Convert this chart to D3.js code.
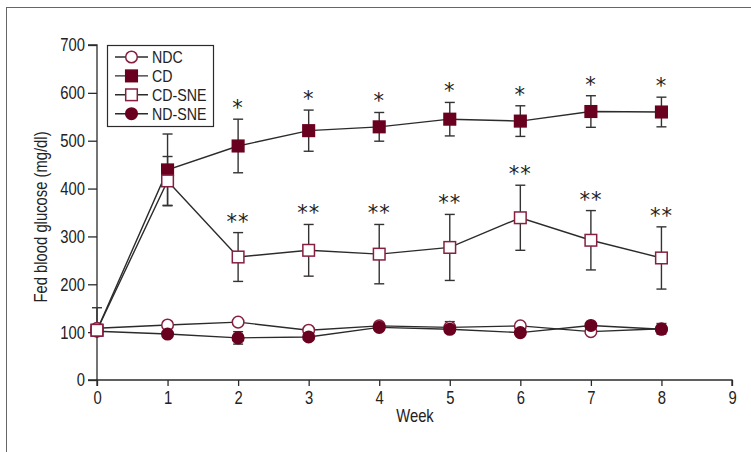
<!DOCTYPE html>
<html><head><meta charset="utf-8">
<script src="https://cdn.jsdelivr.net/npm/d3@7"></script>
<style>
html,body{margin:0;padding:0;background:#fff;}
svg{display:block;}
text{font-family:"Liberation Sans",Arial,sans-serif;fill:#222;}
</style></head>
<body><svg id="chart" width="751" height="452"></svg>
<script>
const weeks = [0,1,2,3,4,5,6,7,8];
const xTicks = [0,1,2,3,4,5,6,7,8,9];
const yTicks = [0,100,200,300,400,500,600,700];

const ndc      = [108,115,121,104,113,110,113,101,107];
const ndcErr   = [0,0,0,0,0,12,0,0,11];
const cd       = [104,439,489,521,529,545,541,561,560];
const cdErr    = [47,75,56,43,30,35,32,33,31];
const cdSne    = [104,416,257,271,263,277,339,292,255];
const cdSneErr = [0,51,51,54,62,69,68,62,65];
const ndSne    = [102,96,88,90,110,106,99,114,106];
const ndSneErr = [0,0,13,0,0,0,0,0,0];

const cdStars    = ["","","*","*","*","*","*","*","*"];
const cdSneStars = ["","","**","**","**","**","**","**","**"];

const seriesNames = ["NDC","CD","CD-SNE","ND-SNE"];

const MAROON = "#69001f";
const OPEN = "#86203f";
const INK = "#2b2b2b";
const FONT = '"Liberation Sans",Arial,sans-serif';
const FS = 18.5;

const svg = d3.select("#chart");
svg.append("rect").attr("x",6.5).attr("y",7.5).attr("width",800).attr("height",500)
  .attr("fill","none").attr("stroke","#666").attr("stroke-width",1);

const x = d3.scaleLinear().domain([0,9]).range([97,732]);
const y = d3.scaleLinear().domain([0,700]).range([380,45]);

const gx = svg.append("g").attr("transform","translate(0,380)")
  .call(d3.axisBottom(x).tickValues(xTicks).tickSize(6).tickPadding(1).tickFormat(d3.format("d")));
const gy = svg.append("g").attr("transform","translate(97,0)")
  .call(d3.axisLeft(y).tickValues(yTicks).tickSize(9).tickPadding(3).tickFormat(d3.format("d")));
[gx,gy].forEach(g=>{
  g.select(".domain").attr("stroke",INK).attr("stroke-width",1.3);
  g.selectAll(".tick line").attr("stroke",INK).attr("stroke-width",1.3);
  g.selectAll(".tick text").attr("font-size",FS).attr("fill","#222").style("font-family",FONT);
});
gx.select(".domain").attr("d","M97,6V0H732V6");
gy.select(".domain").attr("d","M-9,45H0V380H-9");
gx.selectAll(".tick text").attr("dy","0.9em");

svg.append("text").attr("x",415).attr("y",422).attr("text-anchor","middle")
  .attr("font-size",FS).text("Week");
svg.append("text").attr("transform","translate(47,217) rotate(-90)")
  .attr("text-anchor","middle").attr("font-size",FS).text("Fed blood glucose (mg/dl)");

const series = [
  {name:"NDC", v:ndc, e:ndcErr, shape:"circle", fill:"#fff", stroke:OPEN},
  {name:"CD", v:cd, e:cdErr, shape:"square", fill:MAROON, stroke:MAROON},
  {name:"CD-SNE", v:cdSne, e:cdSneErr, shape:"square", fill:"#fff", stroke:OPEN},
  {name:"ND-SNE", v:ndSne, e:ndSneErr, shape:"circle", fill:MAROON, stroke:MAROON}
];

const line = d3.line().x((d,i)=>x(weeks[i])).y(d=>y(d));
const plot = svg.append("g");
series.forEach(s=>{
  plot.append("path").attr("d",line(s.v)).attr("fill","none")
    .attr("stroke",INK).attr("stroke-width",1.4);
});
series.forEach(s=>{
  s.v.forEach((v,i)=>{
    const e = s.e[i]; if(!e) return;
    const top = y(v+e), bot = i===0 ? y(v) : y(v-e);
    const cx = x(weeks[i]);
    const g = plot.append("g").attr("stroke","#333").attr("stroke-width",1.4);
    g.append("line").attr("x1",cx).attr("x2",cx).attr("y1",top).attr("y2",bot);
    g.append("line").attr("x1",cx-5).attr("x2",cx+5).attr("y1",top).attr("y2",top);
    if(i!==0) g.append("line").attr("x1",cx-5).attr("x2",cx+5).attr("y1",bot).attr("y2",bot);
  });
});
function marker(g, shape, cx, cy, fill, stroke){
  if(shape==="circle"){
    g.append("circle").attr("cx",cx).attr("cy",cy).attr("r",5.8)
      .attr("fill",fill).attr("stroke",stroke).attr("stroke-width",1.5);
  } else {
    g.append("rect").attr("x",cx-5.8).attr("y",cy-5.8).attr("width",11.6).attr("height",11.6)
      .attr("fill",fill).attr("stroke",stroke).attr("stroke-width",1.5);
  }
}
[series[0],series[3],series[1],series[2]].forEach(s=>{
  s.v.forEach((v,i)=>marker(plot,s.shape,x(weeks[i]),y(v),s.fill,s.stroke));
});

function stars(vals, errs, labels){
  vals.forEach((v,i)=>{
    if(!labels[i]) return;
    svg.append("text").attr("class","star").attr("x",x(weeks[i])).attr("y",y(v+errs[i])-4)
      .attr("text-anchor","middle").attr("font-size",21).attr("fill","#3a3a3a")
      .style("font-family",'"DejaVu Sans",sans-serif').attr("letter-spacing",1)
      .text(labels[i]);
  });
}
stars(cd, cdErr, cdStars);
stars(cdSne, cdSneErr, cdSneStars);

const lg = svg.append("g");
lg.append("rect").attr("x",107.5).attr("y",45.5).attr("width",106).attr("height",81)
  .attr("fill","#fff").attr("stroke",INK).attr("stroke-width",1.2);
series.forEach((s,i)=>{
  const ly = 57 + i*18.9;
  lg.append("line").attr("x1",115).attr("x2",148).attr("y1",ly).attr("y2",ly)
    .attr("stroke",INK).attr("stroke-width",1.4);
  marker(lg,s.shape,131.5,ly,s.fill,s.stroke);
  lg.append("text").attr("class","leg").attr("x",152).attr("y",ly+6).attr("font-size",16.5).text(s.name);
});

// condense non-star text to mimic the narrow typeface
svg.selectAll("text").filter(function(){return !this.classList.contains("star");})
  .each(function(){
    const w = this.getComputedTextLength();
    const f = this.classList.contains("leg") ? 0.86 : 0.8;
    if (w>0) d3.select(this).attr("textLength", w*f).attr("lengthAdjust","spacingAndGlyphs");
  });
</script></body></html>
